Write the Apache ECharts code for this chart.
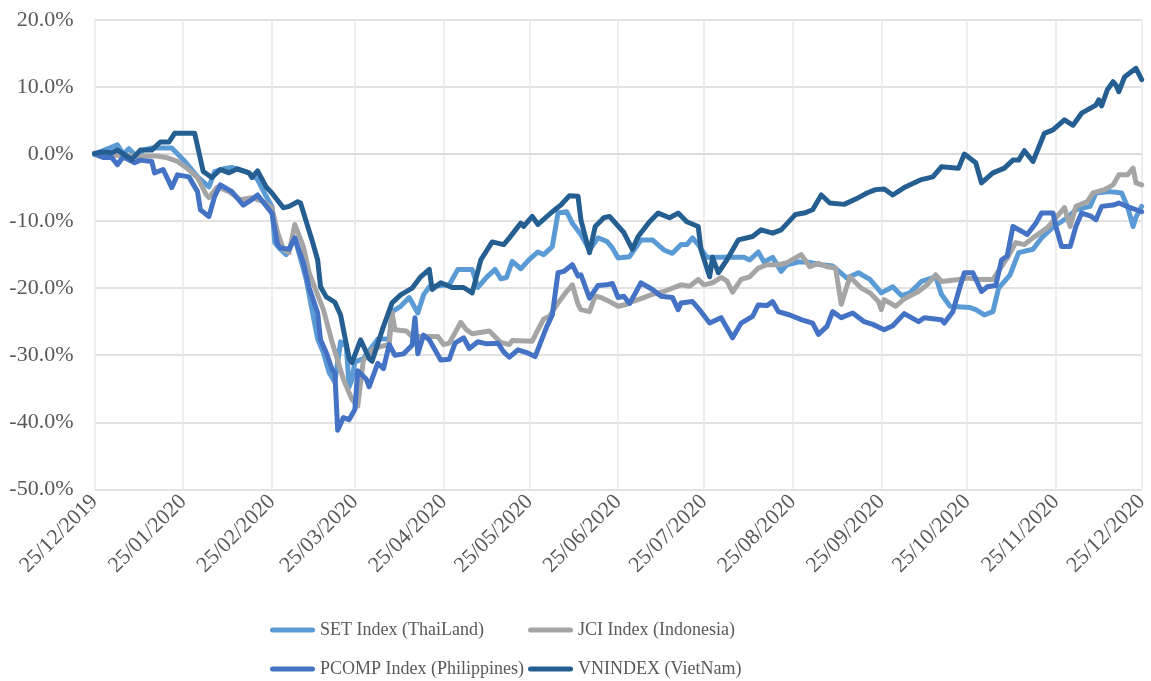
<!DOCTYPE html>
<html>
<head>
<meta charset="utf-8">
<script src="https://cdn.jsdelivr.net/npm/echarts@6/dist/echarts.min.js"></script>
<style>
html,body{margin:0;padding:0;background:#fff;}
#chart{width:1151px;height:681px;}
</style>
</head>
<body>
<div id="chart"></div>
<script>
// ---- Data (percent change vs 25/12/2019) ----
const startDate = '2019-12-25';
const endDate = '2020-12-25';
const tickLabels = ['25/12/2019','25/01/2020','25/02/2020','25/03/2020','25/04/2020','25/05/2020','25/06/2020','25/07/2020','25/08/2020','25/09/2020','25/10/2020','25/11/2020','25/12/2020'];
const seriesNames = ['SET Index (ThaiLand)','JCI Index (Indonesia)','PCOMP Index (Philippines)','VNINDEX (VietNam)'];
const seriesColors = ['#5B9BD5','#A5A5A5','#4472C4','#255E91'];
const yTicks = [-50,-40,-30,-20,-10,0,10,20];

const setData = [['2019-12-25',0],['2020-01-02',1.4],['2020-01-04',0],['2020-01-06',0.8],['2020-01-09',-0.5],['2020-01-11',0.6],['2020-01-14',0.9],['2020-01-18',0.9],['2020-01-21',0.9],['2020-01-24',-0.4],['2020-01-26',-1.3],['2020-01-30',-3.4],['2020-02-03',-4.9],['2020-02-05',-2.6],['2020-02-08',-2.2],['2020-02-11',-2.0],['2020-02-17',-2.8],['2020-02-20',-3.8],['2020-02-23',-6.3],['2020-02-25',-7.8],['2020-02-26',-13.2],['2020-02-28',-14.2],['2020-03-01',-15.0],['2020-03-04',-12.5],['2020-03-08',-18.7],['2020-03-12',-27.6],['2020-03-14',-29.6],['2020-03-16',-32.6],['2020-03-18',-34],['2020-03-20',-28],['2020-03-22',-28.6],['2020-03-23',-34.7],['2020-03-24',-33.6],['2020-03-25',-31],['2020-03-28',-30.5],['2020-04-02',-27.6],['2020-04-06',-27.6],['2020-04-07',-23.5],['2020-04-10',-22.7],['2020-04-13',-21.4],['2020-04-16',-23.7],['2020-04-18',-21],['2020-04-20',-19.8],['2020-04-24',-19.6],['2020-04-27',-19.5],['2020-04-30',-17.2],['2020-05-05',-17.2],['2020-05-07',-19.9],['2020-05-10',-18.4],['2020-05-13',-17.2],['2020-05-15',-18.6],['2020-05-17',-18.4],['2020-05-19',-16],['2020-05-22',-17.1],['2020-05-25',-15.7],['2020-05-28',-14.6],['2020-05-30',-15],['2020-06-02',-13.8],['2020-06-04',-8.8],['2020-06-07',-8.6],['2020-06-09',-10.3],['2020-06-12',-12],['2020-06-15',-14.3],['2020-06-18',-12.5],['2020-06-21',-13],['2020-06-23',-14],['2020-06-25',-15.5],['2020-06-29',-15.3],['2020-07-03',-12.8],['2020-07-07',-12.8],['2020-07-11',-14.3],['2020-07-14',-14.8],['2020-07-17',-13.5],['2020-07-19',-13.5],['2020-07-21',-12.5],['2020-07-23',-13.5],['2020-07-26',-15.4],['2020-07-31',-15.4],['2020-08-08',-15.4],['2020-08-10',-15.8],['2020-08-13',-14.6],['2020-08-15',-16.1],['2020-08-18',-15.4],['2020-08-21',-17.5],['2020-08-23',-16.5],['2020-08-27',-16.1],['2020-08-30',-16.1],['2020-09-04',-16.5],['2020-09-08',-16.7],['2020-09-13',-18.5],['2020-09-17',-17.7],['2020-09-21',-18.7],['2020-09-25',-20.7],['2020-09-29',-19.8],['2020-10-02',-21.1],['2020-10-05',-20.7],['2020-10-09',-19],['2020-10-14',-18.3],['2020-10-16',-20.9],['2020-10-19',-22.7],['2020-10-26',-22.9],['2020-10-28',-23.2],['2020-10-31',-24],['2020-11-03',-23.5],['2020-11-05',-20],['2020-11-09',-18],['2020-11-12',-14.7],['2020-11-17',-14.2],['2020-11-20',-12.5],['2020-11-24',-10.9],['2020-11-29',-9.5],['2020-12-02',-8.3],['2020-12-07',-7.8],['2020-12-09',-5.8],['2020-12-14',-5.6],['2020-12-18',-5.8],['2020-12-20',-7.8],['2020-12-22',-10.8],['2020-12-23',-9.4],['2020-12-25',-7.8]];

const jciData = [['2019-12-25',0],['2020-01-03',-0.2],['2020-01-10',-0.3],['2020-01-16',-0.3],['2020-01-19',-0.5],['2020-01-23',-1.1],['2020-01-26',-2],['2020-01-30',-3.5],['2020-02-02',-6],['2020-02-03',-6.5],['2020-02-06',-4.9],['2020-02-10',-5.6],['2020-02-14',-6.8],['2020-02-18',-6.5],['2020-02-22',-7.1],['2020-02-25',-8],['2020-02-27',-11.7],['2020-02-29',-14.2],['2020-03-02',-14.7],['2020-03-04',-10.5],['2020-03-07',-13.8],['2020-03-09',-17.7],['2020-03-14',-23.2],['2020-03-17',-28],['2020-03-21',-33.6],['2020-03-24',-36.6],['2020-03-26',-37.6],['2020-03-28',-30.7],['2020-03-30',-29.8],['2020-03-31',-29.2],['2020-04-03',-28.7],['2020-04-06',-28.4],['2020-04-07',-23.7],['2020-04-08',-26.2],['2020-04-12',-26.4],['2020-04-14',-27.2],['2020-04-19',-27.2],['2020-04-23',-27.2],['2020-04-25',-28.4],['2020-04-27',-28.2],['2020-05-01',-25.1],['2020-05-03',-26.2],['2020-05-05',-26.8],['2020-05-11',-26.4],['2020-05-15',-28.1],['2020-05-18',-28.4],['2020-05-19',-27.8],['2020-05-26',-27.9],['2020-05-28',-26.2],['2020-05-30',-24.6],['2020-06-01',-24.2],['2020-06-04',-22.2],['2020-06-07',-20.5],['2020-06-09',-19.5],['2020-06-11',-22.4],['2020-06-12',-23.2],['2020-06-15',-23.5],['2020-06-17',-21.2],['2020-06-19',-21.4],['2020-06-22',-22],['2020-06-25',-22.7],['2020-06-28',-22.4],['2020-06-30',-22],['2020-07-04',-21.4],['2020-07-07',-20.9],['2020-07-11',-20.5],['2020-07-17',-19.5],['2020-07-20',-19.7],['2020-07-23',-18.7],['2020-07-25',-19.5],['2020-07-28',-19.2],['2020-07-31',-18.4],['2020-08-02',-18.9],['2020-08-04',-20.6],['2020-08-07',-18.7],['2020-08-10',-18.3],['2020-08-13',-17],['2020-08-16',-16.5],['2020-08-20',-16.5],['2020-08-23',-16.2],['2020-08-28',-15],['2020-08-31',-16.8],['2020-09-03',-16.3],['2020-09-06',-16.8],['2020-09-09',-17],['2020-09-11',-22.4],['2020-09-14',-18.3],['2020-09-18',-20],['2020-09-21',-20.7],['2020-09-24',-22],['2020-09-25',-23.2],['2020-09-26',-21.7],['2020-09-30',-22.7],['2020-10-03',-21.6],['2020-10-08',-20.5],['2020-10-11',-19.5],['2020-10-14',-18],['2020-10-16',-19],['2020-10-22',-18.7],['2020-10-25',-18.5],['2020-10-30',-18.7],['2020-11-03',-18.7],['2020-11-06',-16.8],['2020-11-08',-15.5],['2020-11-11',-13.2],['2020-11-14',-13.5],['2020-11-17',-12.5],['2020-11-22',-11],['2020-11-25',-9.5],['2020-11-28',-8],['2020-11-30',-10.8],['2020-12-02',-7.8],['2020-12-06',-7.1],['2020-12-08',-5.8],['2020-12-12',-5.3],['2020-12-15',-4.6],['2020-12-17',-3.1],['2020-12-20',-3.1],['2020-12-22',-2.1],['2020-12-23',-4.3],['2020-12-25',-4.6]];

const pcompData = [['2019-12-25',0],['2019-12-28',-0.5],['2019-12-31',-0.5],['2020-01-02',-1.6],['2020-01-04',-0.4],['2020-01-08',-1.3],['2020-01-10',-0.9],['2020-01-14',-1.1],['2020-01-15',-2.8],['2020-01-18',-2.3],['2020-01-21',-5],['2020-01-23',-3.1],['2020-01-27',-3.4],['2020-01-30',-5.6],['2020-01-31',-8.3],['2020-02-03',-9.3],['2020-02-05',-6.3],['2020-02-07',-4.6],['2020-02-11',-5.6],['2020-02-15',-7.6],['2020-02-18',-6.8],['2020-02-20',-6.1],['2020-02-25',-8.8],['2020-02-27',-13.5],['2020-02-28',-14],['2020-03-02',-14.2],['2020-03-04',-12.5],['2020-03-07',-16.2],['2020-03-09',-19.9],['2020-03-12',-23.7],['2020-03-13',-27.7],['2020-03-15',-29.6],['2020-03-17',-32.1],['2020-03-18',-32.6],['2020-03-19',-41.2],['2020-03-21',-39.3],['2020-03-23',-39.6],['2020-03-25',-38.1],['2020-03-26',-32.3],['2020-03-29',-33.6],['2020-03-30',-34.7],['2020-04-02',-31.2],['2020-04-04',-32],['2020-04-06',-28.4],['2020-04-08',-30],['2020-04-11',-29.8],['2020-04-14',-28.5],['2020-04-15',-24.4],['2020-04-16',-29.8],['2020-04-18',-27],['2020-04-20',-27.7],['2020-04-24',-30.7],['2020-04-27',-30.6],['2020-04-29',-28.2],['2020-05-02',-27.4],['2020-05-04',-29],['2020-05-07',-28],['2020-05-10',-28.3],['2020-05-14',-28.2],['2020-05-16',-29.5],['2020-05-18',-30.3],['2020-05-21',-29.2],['2020-05-24',-29.6],['2020-05-27',-30.2],['2020-05-29',-28],['2020-05-31',-25.8],['2020-06-02',-24],['2020-06-04',-17.7],['2020-06-06',-17.5],['2020-06-09',-16.5],['2020-06-11',-18.2],['2020-06-12',-18],['2020-06-15',-21.5],['2020-06-18',-19.6],['2020-06-21',-19.5],['2020-06-23',-19.3],['2020-06-25',-21.4],['2020-06-27',-21.2],['2020-06-29',-22.3],['2020-07-03',-19.2],['2020-07-07',-20.2],['2020-07-10',-21.2],['2020-07-14',-21.4],['2020-07-16',-23.2],['2020-07-17',-22.2],['2020-07-21',-22],['2020-07-24',-23.5],['2020-07-27',-25.2],['2020-07-31',-24.4],['2020-08-04',-27.4],['2020-08-07',-25.2],['2020-08-11',-24.2],['2020-08-13',-22.5],['2020-08-16',-22.6],['2020-08-18',-22],['2020-08-20',-23.5],['2020-08-24',-24],['2020-08-28',-24.7],['2020-09-01',-25.2],['2020-09-03',-26.9],['2020-09-06',-25.7],['2020-09-08',-23.5],['2020-09-11',-24.4],['2020-09-15',-23.7],['2020-09-19',-25],['2020-09-22',-25.4],['2020-09-26',-26.2],['2020-09-29',-25.6],['2020-10-03',-23.8],['2020-10-08',-25],['2020-10-10',-24.4],['2020-10-16',-24.7],['2020-10-17',-25.2],['2020-10-20',-23.5],['2020-10-22',-20.5],['2020-10-24',-17.7],['2020-10-27',-17.7],['2020-10-30',-20.5],['2020-11-01',-19.8],['2020-11-04',-19.6],['2020-11-06',-15.8],['2020-11-08',-15.2],['2020-11-10',-10.8],['2020-11-13',-11.5],['2020-11-15',-12],['2020-11-18',-10.3],['2020-11-20',-8.8],['2020-11-24',-8.8],['2020-11-25',-10.8],['2020-11-27',-13.8],['2020-11-30',-13.8],['2020-12-02',-10.8],['2020-12-04',-8.8],['2020-12-07',-9.2],['2020-12-09',-9.8],['2020-12-11',-7.8],['2020-12-15',-7.6],['2020-12-17',-7.3],['2020-12-21',-8],['2020-12-25',-8.6]];

const vnData = [['2019-12-25',0.1],['2019-12-28',0.3],['2019-12-31',0.2],['2020-01-02',0.6],['2020-01-07',-0.8],['2020-01-10',0.6],['2020-01-14',0.6],['2020-01-17',1.8],['2020-01-20',1.8],['2020-01-22',3.1],['2020-01-29',3.1],['2020-02-01',-2.6],['2020-02-04',-3.5],['2020-02-07',-2.3],['2020-02-10',-2.8],['2020-02-13',-2.2],['2020-02-17',-2.8],['2020-02-18',-3.5],['2020-02-20',-2.5],['2020-02-23',-4.9],['2020-02-25',-5.8],['2020-02-29',-8.0],['2020-03-02',-7.8],['2020-03-05',-7.1],['2020-03-06',-7.3],['2020-03-10',-12.8],['2020-03-12',-15.8],['2020-03-13',-19.8],['2020-03-15',-21.3],['2020-03-18',-22.1],['2020-03-20',-24],['2020-03-23',-30.5],['2020-03-24',-31.1],['2020-03-27',-27.7],['2020-03-30',-30.5],['2020-03-31',-30.9],['2020-04-04',-25.7],['2020-04-07',-22.2],['2020-04-10',-21],['2020-04-14',-20],['2020-04-17',-18.3],['2020-04-20',-17.2],['2020-04-21',-20.2],['2020-04-24',-19.2],['2020-04-28',-19.9],['2020-05-02',-19.9],['2020-05-05',-20.7],['2020-05-08',-15.8],['2020-05-12',-13.1],['2020-05-16',-13.5],['2020-05-18',-12.5],['2020-05-22',-10.3],['2020-05-23',-10.8],['2020-05-26',-9.3],['2020-05-28',-10.5],['2020-06-02',-8.6],['2020-06-05',-7.6],['2020-06-08',-6.2],['2020-06-11',-6.3],['2020-06-12',-9.8],['2020-06-15',-14.7],['2020-06-17',-10.8],['2020-06-20',-9.5],['2020-06-22',-9.3],['2020-06-27',-11.7],['2020-06-30',-14.2],['2020-07-02',-12.3],['2020-07-06',-10.1],['2020-07-09',-8.8],['2020-07-13',-9.5],['2020-07-16',-8.8],['2020-07-19',-10.1],['2020-07-23',-10.8],['2020-07-24',-14.3],['2020-07-27',-18.3],['2020-07-28',-15.4],['2020-07-30',-17.7],['2020-08-02',-15.8],['2020-08-06',-12.8],['2020-08-11',-12.3],['2020-08-14',-11.3],['2020-08-18',-11.8],['2020-08-21',-11.3],['2020-08-26',-9],['2020-08-29',-8.8],['2020-09-01',-8.3],['2020-09-04',-6.1],['2020-09-07',-7.3],['2020-09-12',-7.5],['2020-09-17',-6.5],['2020-09-20',-5.8],['2020-09-23',-5.3],['2020-09-26',-5.2],['2020-09-29',-6.1],['2020-10-03',-5],['2020-10-09',-3.8],['2020-10-13',-3.4],['2020-10-16',-1.9],['2020-10-22',-2.1],['2020-10-24',0],['2020-10-28',-1.3],['2020-10-30',-4.3],['2020-11-03',-2.8],['2020-11-07',-2.1],['2020-11-10',-0.9],['2020-11-12',-0.9],['2020-11-14',0.5],['2020-11-17',-1.1],['2020-11-21',3.1],['2020-11-24',3.6],['2020-11-28',5.1],['2020-12-01',4.3],['2020-12-04',6.1],['2020-12-09',7.3],['2020-12-10',8.1],['2020-12-11',7.2],['2020-12-13',9.6],['2020-12-15',10.8],['2020-12-16',10.3],['2020-12-17',9.3],['2020-12-19',11.5],['2020-12-23',12.8],['2020-12-25',11.1]];

// ---- Build daily category list ----
function buildDays(a, b) {
  const out = [];
  const d = new Date(a + 'T00:00:00Z');
  const end = new Date(b + 'T00:00:00Z');
  while (d <= end) {
    out.push(d.toISOString().slice(0, 10));
    d.setUTCDate(d.getUTCDate() + 1);
  }
  return out;
}
const days = buildDays(startDate, endDate);
function toLabel(iso) {
  const p = iso.split('-');
  return p[2] + '/' + p[1] + '/' + p[0];
}
const isTick = (idx, val) => tickLabels.indexOf(toLabel(val)) >= 0;

const FONT = 'Liberation Serif';
const TXT = '#595959';
const pill = 'path://M2.5,0H42.5A2.5,2.5,0,0,1,42.5,5H2.5A2.5,2.5,0,0,1,2.5,0Z';
const allData = [setData, jciData, pcompData, vnData];

// legend placement: [seriesIndex, left, top]
const legendSlots = [[0, 270, 619], [1, 528, 619], [2, 270, 658], [3, 528, 658]];

const chart = echarts.init(document.getElementById('chart'), null, {renderer: 'canvas'});
chart.setOption({
  animation: false,
  backgroundColor: '#ffffff',
  textStyle: {fontFamily: FONT, color: TXT},
  grid: {left: 94.5, right: 9.3, top: 20, bottom: 191.7, containLabel: false, outerBoundsMode: 'none'},
  legend: legendSlots.map(s => ({
    data: [seriesNames[s[0]]],
    orient: 'horizontal', left: s[1], top: s[2],
    padding: 0,
    icon: pill, itemWidth: 45, itemHeight: 5,
    textStyle: {fontFamily: FONT, fontSize: 18, color: TXT, lineHeight: 22}
  })),
  xAxis: {
    type: 'category',
    data: days,
    boundaryGap: false,
    axisLine: {show: true, lineStyle: {color: '#d9d9d9', width: 1.5}},
    axisTick: {show: false},
    axisLabel: {
      interval: isTick,
      rotate: 45,
      margin: 9,
      fontFamily: FONT, fontSize: 22, color: TXT,
      formatter: (v) => toLabel(v)
    },
    splitLine: {show: true, interval: isTick, lineStyle: {color: '#e9e9e9', width: 1.5}}
  },
  yAxis: {
    type: 'value',
    min: yTicks[0], max: yTicks[yTicks.length - 1], interval: 10,
    axisLine: {show: false},
    axisTick: {show: false},
    axisLabel: {
      margin: 21,
      fontFamily: FONT, fontSize: 22, color: TXT,
      formatter: (v) => v.toFixed(1) + '%'
    },
    splitLine: {show: true, lineStyle: {color: '#d9d9d9', width: 1.5}}
  },
  series: seriesNames.map((name, i) => ({
    name: name,
    type: 'line',
    data: allData[i],
    showSymbol: false,
    symbol: 'none',
    color: seriesColors[i],
    lineStyle: {width: 5, color: seriesColors[i], cap: 'round', join: 'round'},
    z: 2 + i
  }))
});
</script>
</body>
</html>
